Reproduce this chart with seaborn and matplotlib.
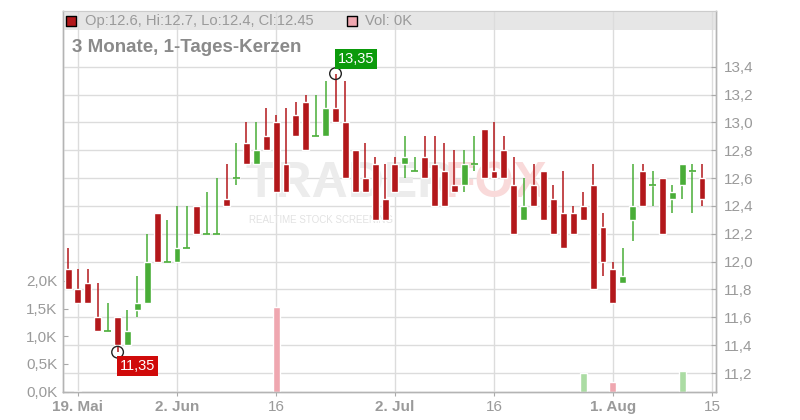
import numpy as np
import matplotlib
matplotlib.use("Agg")
import matplotlib.pyplot as plt
import matplotlib.transforms as mtransforms
import seaborn as sns

# daily candles, 16. Mai .. 14. Aug (trading-day index)
opens = [11.95, 11.80, 11.85, 11.60, 11.50, 11.60, 11.40, 11.65, 11.70, 12.35,
         12.00, 12.00, 12.10, 12.40, 12.20, 12.20, 12.45, 12.60, 12.85, 12.70,
         12.90, 13.00, 12.70, 13.05, 13.15, 12.90, 12.90, 13.10, 13.00, 12.80,
         12.60, 12.70, 12.45, 12.70, 12.70, 12.65, 12.75, 12.70, 12.65, 12.55,
         12.55, 12.70, 12.95, 12.65, 12.80, 12.55, 12.30, 12.55, 12.65, 12.45,
         12.35, 12.35, 12.40, 12.55, 12.25, 11.95, 11.85, 12.30, 12.65, 12.55,
         12.60, 12.45, 12.55, 12.65, 12.60]
highs = [12.10, 11.95, 11.95, 11.85, 11.70, 11.60, 11.65, 11.90, 12.20, 12.35,
         12.30, 12.40, 12.40, 12.40, 12.50, 12.60, 12.70, 12.85, 13.00, 13.00,
         13.10, 13.05, 13.10, 13.15, 13.20, 13.20, 13.30, 13.35, 13.30, 12.80,
         12.85, 12.75, 12.70, 12.75, 12.90, 12.75, 12.90, 12.90, 12.85, 12.80,
         12.80, 12.90, 12.95, 13.00, 12.90, 12.75, 12.60, 12.70, 12.65, 12.55,
         12.65, 12.40, 12.50, 12.70, 12.35, 12.00, 12.10, 12.70, 12.70, 12.65,
         12.60, 12.55, 12.70, 12.70, 12.70]
lows = [11.80, 11.70, 11.70, 11.50, 11.50, 11.35, 11.40, 11.60, 11.70, 12.00,
        12.00, 12.00, 12.10, 12.20, 12.20, 12.20, 12.40, 12.55, 12.70, 12.70,
        12.80, 12.50, 12.50, 12.90, 12.80, 12.90, 12.90, 13.00, 12.60, 12.50,
        12.50, 12.30, 12.30, 12.50, 12.60, 12.65, 12.60, 12.40, 12.40, 12.50,
        12.50, 12.65, 12.60, 12.60, 12.60, 12.20, 12.30, 12.40, 12.30, 12.20,
        12.10, 12.20, 12.30, 11.80, 11.90, 11.70, 11.85, 12.15, 12.40, 12.40,
        12.20, 12.35, 12.45, 12.35, 12.40]
closes = [11.80, 11.70, 11.70, 11.50, 11.50, 11.40, 11.50, 11.70, 12.00, 12.00,
          12.00, 12.10, 12.10, 12.20, 12.20, 12.20, 12.40, 12.60, 12.70, 12.80,
          12.80, 12.50, 12.50, 12.90, 12.80, 12.90, 13.10, 13.00, 12.60, 12.50,
          12.50, 12.30, 12.30, 12.50, 12.75, 12.65, 12.60, 12.40, 12.40, 12.50,
          12.70, 12.70, 12.60, 12.60, 12.60, 12.20, 12.40, 12.40, 12.30, 12.20,
          12.10, 12.20, 12.30, 11.80, 12.00, 11.70, 11.90, 12.40, 12.40, 12.55,
          12.20, 12.50, 12.70, 12.65, 12.45]
volumes = [0, 20, 0, 0, 0, 0, 0, 0, 0, 0,
           0, 0, 0, 0, 0, 0, 0, 0, 0, 0,
           0, 1530, 0, 0, 0, 0, 0, 0, 0, 0,
           0, 0, 0, 0, 0, 0, 0, 0, 0, 0,
           0, 0, 0, 0, 0, 0, 0, 0, 0, 0,
           0, 0, 340, 0, 0, 170, 0, 0, 0, 0,
           0, 0, 370, 0, 0]
tick_pos = [1, 11, 21, 33, 43, 55, 65]
tick_labels = ["19. Mai", "2. Jun", "16", "2. Jul", "16", "1. Aug", "15"]
tick_bold = [True, True, False, True, False, True, False]
price_ticks = [11.2, 11.4, 11.6, 11.8, 12.0, 12.2, 12.4, 12.6, 12.8, 13.0, 13.2, 13.4]
vol_ticks = [0, 500, 1000, 1500, 2000]

RED = "#b3181b"
GREEN = "#49ad37"
VRED = "#efa7b0"
VGREEN = "#abdca3"
GRID = "#dcdcdc"
TXT = "#9a9a9a"

sns.set_style("white")
plt.rcParams["font.family"] = ["Liberation Sans", "DejaVu Sans"]

o = np.array(opens); h = np.array(highs); l = np.array(lows); c = np.array(closes)
x = np.arange(len(o))
up = c >= o
prev = np.r_[c[0] + (0 if up[0] else 1), c[:-1]]
vol_up = c >= prev

fig = plt.figure(figsize=(8, 4.2), dpi=100)
axv = fig.add_axes([63 / 800, 28.3 / 420, 653 / 800, 380.7 / 420])
ax = axv.twinx()
axv.set_zorder(1)
ax.set_zorder(2)
ax.patch.set_visible(False)

ax.set_xlim(-0.51, 65.41)
ax.set_ylim(11.066, 13.80)
axv.set_ylim(0, 6870)

# header band
ax.add_patch(plt.Rectangle((0, 0.95), 1, 0.05, transform=ax.transAxes,
                           color="#e6e6e6", zorder=0.3, lw=0))

# grid
for p in price_ticks:
    ax.axhline(p, color=GRID, lw=1, zorder=0.5)
for t in tick_pos:
    ax.axvline(t, color=GRID, lw=1, zorder=0.5)

# watermark
ax.text(0.279, 0.545, "TRADER", transform=ax.transAxes, fontsize=36,
        fontweight="bold", color="#ececec", ha="left", va="center", zorder=0.6)
ax.text(0.585, 0.545, "FOX", transform=ax.transAxes, fontsize=36,
        fontweight="bold", color="#f9dada", ha="left", va="center", zorder=0.6)
ax.text(0.285, 0.45, "REALTIME STOCK SCREENING", transform=ax.transAxes,
        fontsize=7, color="#e2e2e2", ha="left", va="center", zorder=0.6)

# volume bars drawn in volume units, below candles
vtrans = mtransforms.blended_transform_factory(ax.transData, axv.transData)
ax.bar(x, volumes, width=0.7, color=[VGREEN if u else VRED for u in vol_up],
       transform=vtrans, zorder=1)

# candles
cols = np.where(up, GREEN, RED)
ax.vlines(x, l, h, colors=cols, lw=1.1, zorder=2)
body = np.abs(c - o)
ax.bar(x, body, bottom=np.minimum(o, c), width=0.7, color=cols, zorder=3)
doji = body < 1e-9
ax.hlines(c[doji], x[doji] - 0.35, x[doji] + 0.35, colors=cols[doji], lw=1.2, zorder=3)

# high / low markers
i_hi = int(np.argmax(h)); i_lo = int(np.argmin(l))
sns.scatterplot(x=[i_hi, i_lo], y=[h[i_hi], l[i_lo]], ax=ax, s=70,
                facecolor="none", edgecolor="#222222", linewidth=1, zorder=5)
ax.text(i_hi + 0.25, 13.455, f"{h[i_hi]:.2f}".replace(".", ","), color="white",
        fontsize=10.5, ha="left", va="center", zorder=6,
        bbox=dict(boxstyle="square,pad=0.2", fc="#0b9a0b", ec="none"))
ax.text(i_lo + 0.25, 11.25, f"{l[i_lo]:.2f}".replace(".", ","), color="white",
        fontsize=10.5, ha="left", va="center", zorder=6,
        bbox=dict(boxstyle="square,pad=0.2", fc="#d00a0a", ec="none"))

# axes styling
ax.set_yticks(price_ticks)
ax.set_yticklabels([f"{p:.1f}".replace(".", ",") for p in price_ticks])
ax.tick_params(axis="y", direction="in", length=3.5, color="#aaaaaa",
               labelcolor=TXT, labelsize=11, pad=6, right=True, left=False)
axv.set_yticks(vol_ticks)
axv.set_yticklabels([f"{v / 1000:.1f}K".replace(".", ",") for v in vol_ticks])
axv.tick_params(axis="y", direction="in", length=3.5, color="#aaaaaa",
                labelcolor=TXT, labelsize=11, pad=4, left=True, right=False)
axv.set_xticks(tick_pos)
axv.set_xticklabels(tick_labels)
for lab, b in zip(axv.get_xticklabels(), tick_bold):
    lab.set_fontweight("bold" if b else "normal")
axv.tick_params(axis="x", direction="out", length=3, color="#aaaaaa",
                labelcolor=TXT, labelsize=11, pad=3, bottom=True, labelbottom=True)
ax.tick_params(axis="x", bottom=False, labelbottom=False, top=False, labeltop=False)
for a in (ax, axv):
    for s in ("left", "right", "bottom"):
        a.spines[s].set_color("#b4b4b4")
        a.spines[s].set_linewidth(1)
    a.spines["top"].set_color("#cccccc")

# header legend + title
ax.scatter([0.0115], [0.975], marker="s", s=60, color=RED, edgecolor="black",
           linewidth=1, transform=ax.transAxes, zorder=6, clip_on=False)
ax.text(0.033, 0.975, f"Op:{o[-1]:g}, Hi:{h[-1]:g}, Lo:{l[-1]:g}, Cl:{c[-1]:g}",
        transform=ax.transAxes, fontsize=10.6, color=TXT, ha="left", va="center")
ax.scatter([0.443], [0.975], marker="s", s=60, color=VRED, edgecolor="black",
           linewidth=1, transform=ax.transAxes, zorder=6, clip_on=False)
ax.text(0.462, 0.975, f"Vol: {volumes[-1] // 1000}K", transform=ax.transAxes,
        fontsize=10.6, color=TXT, ha="left", va="center")
ax.text(0.0138, 0.905, "3 Monate, 1-Tages-Kerzen", transform=ax.transAxes,
        fontsize=13.5, fontweight="bold", color="#8a8a8a", ha="left", va="center")

fig.savefig("out.png", dpi=100)
